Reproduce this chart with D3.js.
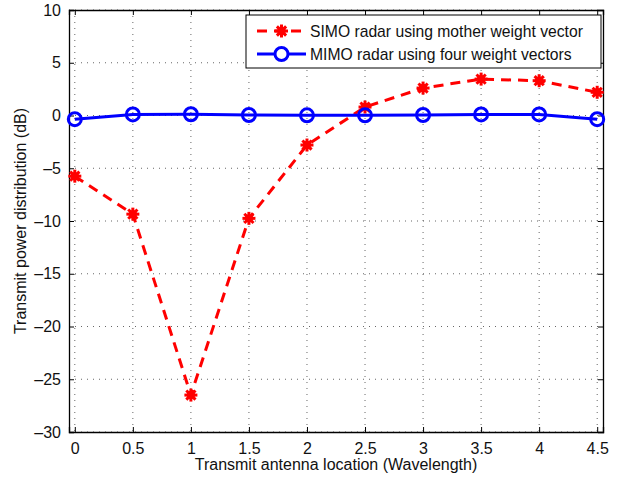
<!DOCTYPE html>
<html>
<head>
<meta charset="utf-8">
<script src="https://cdn.jsdelivr.net/npm/d3@7"></script>
<style>
  body { margin: 0; background: #fff; }
  text { font-family: "Liberation Sans", Arial, sans-serif; }
</style>
</head>
<body>
<div id="chart"></div>
<script>
const positions = [0, 0.5, 1, 1.5, 2, 2.5, 3, 3.5, 4, 4.5];
const simo = [-5.75, -9.35, -26.5, -9.75, -2.8, 0.8, 2.6, 3.45, 3.3, 2.2];
const mimo = [-0.35, 0.1, 0.12, 0.05, 0.02, 0.02, 0.05, 0.1, 0.1, -0.35];
const xTicks = [0, 0.5, 1, 1.5, 2, 2.5, 3, 3.5, 4, 4.5];
const yTicks = [10, 5, 0, -5, -10, -15, -20, -25, -30];

const W = 623, H = 477;
const margin = {top: 10, right: 20, bottom: 45, left: 69};
const width = 603 - margin.left, height = 432 - margin.top;
const fs = 16;

const svg = d3.select("#chart").append("svg")
  .attr("width", W).attr("height", H);
const g = svg.append("g").attr("transform", `translate(${margin.left},${margin.top})`);

const x = d3.scaleLinear().domain([-0.05, 4.55]).range([0, width]);
const y = d3.scaleLinear().domain([-30, 10]).range([height, 0]);

// grid
g.append("g").selectAll("line").data(xTicks).enter().append("line")
  .attr("x1", d => x(d)).attr("x2", d => x(d)).attr("y1", 0).attr("y2", height)
  .attr("stroke", "#555").attr("stroke-width", 0.9).attr("stroke-dasharray", "1,5");
g.append("g").selectAll("line").data(yTicks).enter().append("line")
  .attr("y1", d => y(d)).attr("y2", d => y(d)).attr("x1", 0).attr("x2", width)
  .attr("stroke", "#555").attr("stroke-width", 0.9).attr("stroke-dasharray", "1,5");

// axes with inward ticks
const fmt = d => d < 0 ? "\u2013" + Math.abs(d) : String(d);
g.append("g").attr("transform", `translate(0,${height})`)
  .call(d3.axisBottom(x).tickValues(xTicks).tickSize(-5).tickPadding(11).tickFormat(fmt));
g.append("g").attr("transform", "translate(0,0)")
  .call(d3.axisTop(x).tickValues(xTicks).tickSize(-5).tickFormat(""));
g.append("g")
  .call(d3.axisLeft(y).tickValues(yTicks).tickSize(-5).tickPadding(8).tickFormat(fmt));
g.append("g").attr("transform", `translate(${width},0)`)
  .call(d3.axisRight(y).tickValues(yTicks).tickSize(-5).tickFormat(""));
g.selectAll(".domain").attr("stroke", "#000").attr("stroke-width", 1.3);
g.selectAll(".tick line").attr("stroke", "#000");
g.selectAll(".tick text").attr("font-size", fs).attr("fill", "#111")
  .style("font-family", "Liberation Sans, Arial, sans-serif");

// labels
svg.append("text").attr("x", margin.left + x(2.25)).attr("y", 470)
  .attr("text-anchor", "middle").attr("font-size", fs).attr("fill", "#111")
  .text("Transmit antenna location (Wavelength)");
svg.append("text").attr("transform", `translate(26,${margin.top + y(-10)}) rotate(-90)`)
  .attr("text-anchor", "middle").attr("font-size", fs).attr("fill", "#111")
  .text("Transmit power distribution (dB)");

const red = "#ff0000", blue = "#0000ff";
const line = d3.line().x(d => x(d[0])).y(d => y(d[1]));

function star(sel, cx, cy, r) {
  const s = sel.append("g").attr("transform", `translate(${cx},${cy})`);
  for (let a = 0; a < 4; a++) {
    const t = a * Math.PI / 4;
    s.append("line").attr("x1", -r * Math.cos(t)).attr("y1", -r * Math.sin(t))
      .attr("x2", r * Math.cos(t)).attr("y2", r * Math.sin(t))
      .attr("stroke", red).attr("stroke-width", 3);
  }
  s.append("circle").attr("r", r * 0.65).attr("fill", red);
}

const simoPts = positions.map((p, i) => [p, simo[i]]);
const mimoPts = positions.map((p, i) => [p, mimo[i]]);

g.append("path").datum(simoPts).attr("d", line).attr("fill", "none")
  .attr("stroke", red).attr("stroke-width", 3).attr("stroke-dasharray", "10,7");
simoPts.forEach(d => star(g, x(d[0]), y(d[1]), 6.5));

g.append("path").datum(mimoPts).attr("d", line).attr("fill", "none")
  .attr("stroke", blue).attr("stroke-width", 3);
g.selectAll(".mimo").data(mimoPts).enter().append("circle").attr("class", "mimo")
  .attr("cx", d => x(d[0])).attr("cy", d => y(d[1])).attr("r", 6.5)
  .attr("fill", "none").attr("stroke", blue).attr("stroke-width", 3);

// legend
const lg = svg.append("g").attr("transform", "translate(246,15)");
lg.append("rect").attr("width", 355).attr("height", 53).attr("fill", "#fff")
  .attr("stroke", "#000").attr("stroke-width", 1);
lg.append("line").attr("x1", 11).attr("x2", 60).attr("y1", 16).attr("y2", 16)
  .attr("stroke", red).attr("stroke-width", 3).attr("stroke-dasharray", "10,7");
star(lg, 35.5, 16, 6.5);
lg.append("line").attr("x1", 11).attr("x2", 60).attr("y1", 39).attr("y2", 39)
  .attr("stroke", blue).attr("stroke-width", 3);
lg.append("circle").attr("cx", 35.5).attr("cy", 39).attr("r", 6.5)
  .attr("fill", "#fff").attr("stroke", blue).attr("stroke-width", 3);
lg.append("text").attr("x", 64).attr("y", 22).attr("font-size", fs - 0.3).attr("fill", "#111")
  .text("SIMO radar using mother weight vector");
lg.append("text").attr("x", 64).attr("y", 45).attr("font-size", fs - 0.3).attr("fill", "#111")
  .text("MIMO radar using four weight vectors");
</script>
</body>
</html>
